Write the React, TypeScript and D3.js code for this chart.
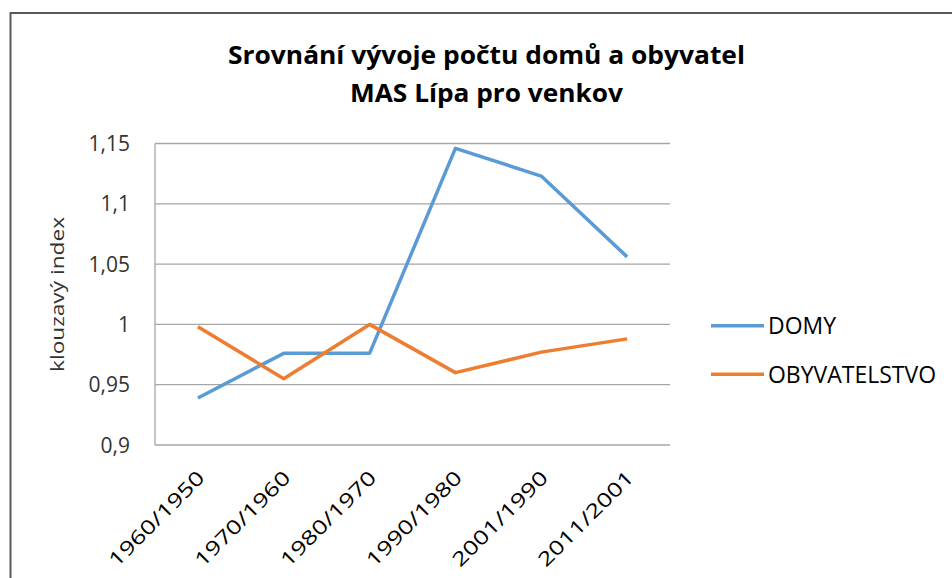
import React from "react";
import * as d3 from "d3";

const categories = ["1960/1950", "1970/1960", "1980/1970", "1990/1980", "2001/1990", "2011/2001"];
const domy = [0.939, 0.976, 0.976, 1.146, 1.123, 1.056];
const obyvatelstvo = [0.998, 0.955, 1.0, 0.96, 0.977, 0.988];
const yTicks = [0.9, 0.95, 1, 1.05, 1.1, 1.15];
const seriesNames = ["DOMY", "OBYVATELSTVO"];
const colors = ["#5B9BD5", "#ED7D31"];

const W = 952, H = 578;
const plot = { left: 155, right: 670, top: 143.5, bottom: 445 };
const font = "'Open Sans', sans-serif";

export default function App() {
  const x = d3.scaleBand().domain(categories).range([plot.left, plot.right]);
  const y = d3.scaleLinear().domain([0.9, 1.15]).range([plot.bottom, plot.top]);
  const cx = (c: string) => (x(c) as number) + x.bandwidth() / 2;
  const line = d3.line<number>().x((_, i) => cx(categories[i])).y((d) => y(d));
  const fmt = (v: number) => String(+v.toFixed(2)).replace(".", ",");
  const series = [domy, obyvatelstvo];
  const legendLens = [68, 168];

  return (
    <svg width={W} height={H} style={{ position: "absolute", left: 0, top: 0, fontFamily: font }}>
      <rect x={0} y={0} width={W} height={H} fill="#fff" />
      <rect x={10.5} y={13} width={W + 20} height={H + 20} fill="#fff" stroke="#595959" strokeWidth={2} />
      <text x={486.5} y={63.5} textAnchor="middle" fontSize={25} fontWeight="bold" fill="#000"
        textLength={517} lengthAdjust="spacingAndGlyphs">
        Srovnání vývoje počtu domů a obyvatel
      </text>
      <text x={486.5} y={102} textAnchor="middle" fontSize={25} fontWeight="bold" fill="#000"
        textLength={273} lengthAdjust="spacingAndGlyphs">
        MAS Lípa pro venkov
      </text>
      {yTicks.map((t) => (
        <g key={t}>
          <line x1={plot.left} x2={plot.right} y1={y(t)} y2={y(t)} stroke="#A6A6A6" strokeWidth={1.3} />
          <text x={130} y={y(t) + 7.5} textAnchor="end" fontSize={21} fill="#333">
            {fmt(t)}
          </text>
        </g>
      ))}
      <line x1={plot.left} x2={plot.left} y1={plot.top} y2={plot.bottom} stroke="#A6A6A6" strokeWidth={1.3} />
      <text transform={`translate(64,294.5) rotate(-90)`} textAnchor="middle" fontSize={19} fill="#333"
        textLength={155} lengthAdjust="spacingAndGlyphs">
        klouzavý index
      </text>
      {categories.map((c) => (
        <text key={c} transform={`translate(${cx(c) + 8},479) rotate(-45)`} textAnchor="end" fontSize={19.5} fill="#000"
          textLength={126} lengthAdjust="spacingAndGlyphs">
          {c}
        </text>
      ))}
      {series.map((s, i) => (
        <path key={i} d={line(s) as string} fill="none" stroke={colors[i]} strokeWidth={3.5} strokeLinejoin="round" />
      ))}
      {seriesNames.map((n, i) => (
        <g key={n}>
          <line x1={711} x2={764} y1={325.7 + i * 48.5} y2={325.7 + i * 48.5} stroke={colors[i]} strokeWidth={3.5} />
          <text x={768} y={334 + i * 48.5} fontSize={23} fill="#000"
            textLength={legendLens[i]} lengthAdjust="spacingAndGlyphs">
            {n}
          </text>
        </g>
      ))}
    </svg>
  );
}
